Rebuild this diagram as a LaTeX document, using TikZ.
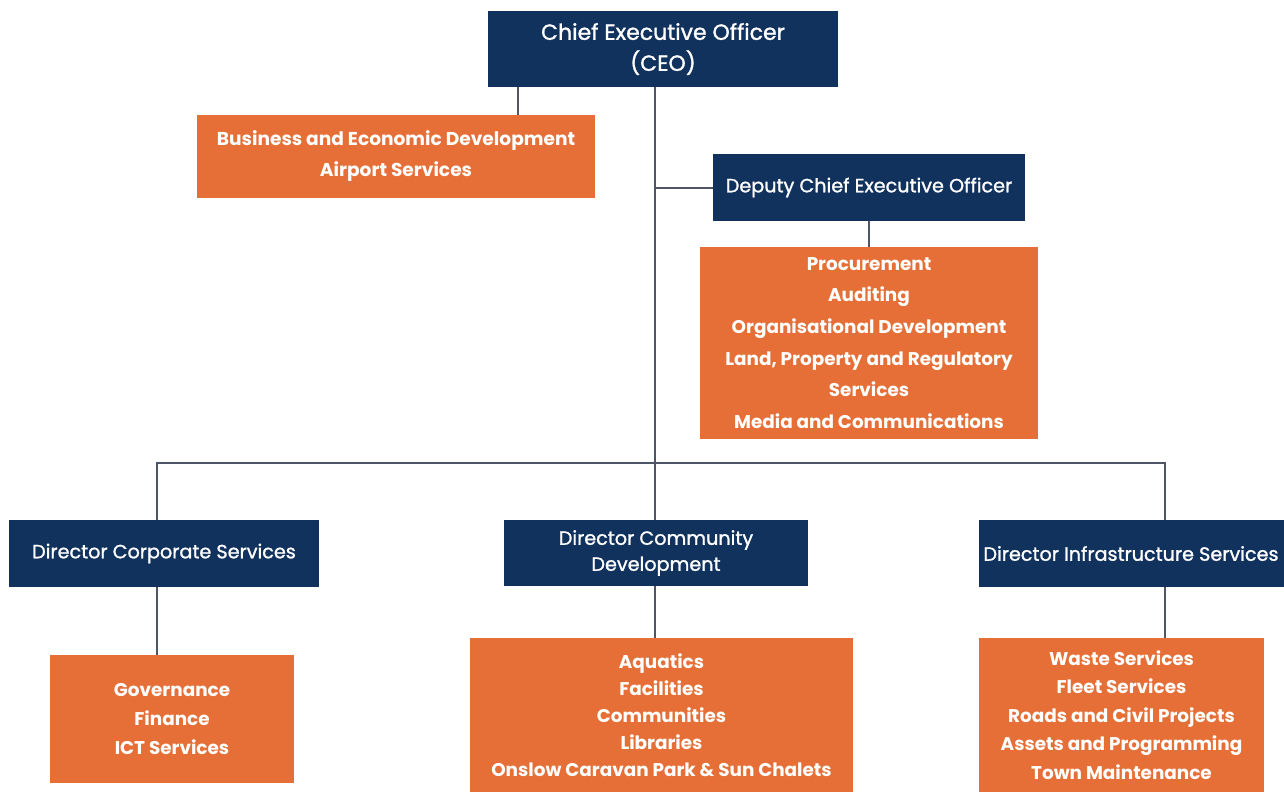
\documentclass[tikz,border=0pt]{standalone}
\usepackage{fontspec}
\setmainfont{Poppins}
\newfontfamily\medfont{Poppins}[FakeBold=1.2]
\usetikzlibrary{positioning}

\definecolor{navy}{HTML}{12325E}
\definecolor{rust}{HTML}{E56F36}
\definecolor{wire}{HTML}{4E5566}

\tikzset{
  navybox/.style = {fill=navy, text=white, align=center, inner sep=0pt,
    font=\medfont\fontsize{9.6}{14}\selectfont},
  rustbox/.style = {fill=rust, text=white, align=center, inner sep=0pt,
    font=\fontsize{9.2}{14.3}\selectfont\bfseries},
  link/.style = {draw=wire, line width=1pt}
}

\begin{document}
\begin{tikzpicture}[x=0.5pt, y=-0.5pt]
\useasboundingbox (0,0) rectangle (1284,792); % page frame

% top level
\node[navybox, minimum width=175pt, minimum height=38pt, font=\medfont\fontsize{11}{15.5}\selectfont] (ceo) at (663,49) {Chief Executive Officer\\(CEO)}; % CEO
\node[rustbox, minimum width=199pt, minimum height=41.5pt, font=\fontsize{9.3}{15.5}\selectfont\bfseries] (bizdev) at (396,156.5) {Business and Economic Development\\Airport Services}; % units under CEO
\node[navybox, minimum width=156pt, minimum height=33.5pt] (deputy) at (869,187.5) {Deputy Chief Executive Officer}; % deputy
\node[rustbox, minimum width=169pt, minimum height=96pt, font=\fontsize{9.2}{15.8}\selectfont\bfseries] (deputyunits) at (869,343) {Procurement\\Auditing\\Organisational Development\\Land, Property and Regulatory\\Services\\Media and Communications}; % deputy units

% directors
\node[navybox, minimum width=155pt, minimum height=33.5pt] (dircorp) at (164,553.5) {Director Corporate Services}; % corporate
\node[navybox, minimum width=152pt, minimum height=33pt, font=\medfont\fontsize{9.6}{13}\selectfont] (dircomm) at (656,553) {Director Community\\Development}; % community
\node[navybox, minimum width=152.5pt, minimum height=33.5pt] (dirinfra) at (1131,553.5) {Director Infrastructure Services}; % infrastructure

% director units
\node[rustbox, minimum width=122pt, minimum height=64pt] (corpunits) at (172,719) {Governance\\Finance\\ICT Services}; % corporate units
\node[rustbox, minimum width=191.5pt, minimum height=77pt, font=\fontsize{9.2}{13.5}\selectfont\bfseries] (communits) at (661.5,715) {Aquatics\\Facilities\\Communities\\Libraries\\Onslow Caravan Park \& Sun Chalets}; % community units
\node[rustbox, minimum width=142.5pt, minimum height=77pt] (infraunits) at (1121.5,715) {Waste Services\\Fleet Services\\Roads and Civil Projects\\Assets and Programming\\Town Maintenance}; % infrastructure units

% joints
\coordinate (bizx) at (518,0);
\coordinate (bus) at (655,463);
\coordinate (corpx) at (157,463);
\coordinate (infrax) at (1165,463);

% connectors
\draw[link] (ceo.south -| bizx) -- (bizdev.north -| bizx); % CEO to units
\draw[link] (ceo.south -| bus) -- (dircomm.north -| bus); % trunk
\draw[link] (deputy.west -| bus) -- (deputy.west); % to deputy
\draw[link] (deputy.south) -- (deputyunits.north); % deputy to units
\draw[link] (dircorp.north -| corpx) -- (corpx) -- (infrax) -- (dirinfra.north -| infrax); % director bus
\draw[link] (dircorp.south -| corpx) -- (corpunits.north -| corpx); % corporate
\draw[link] (dircomm.south -| bus) -- (communits.north -| bus); % community
\draw[link] (dirinfra.south -| infrax) -- (infraunits.north -| infrax); % infrastructure

\end{tikzpicture}
\end{document}
